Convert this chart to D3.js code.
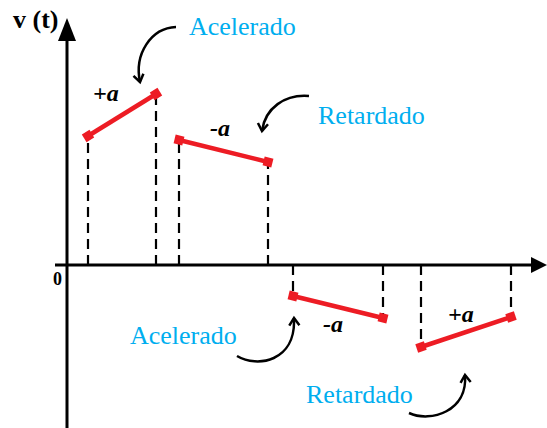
<!DOCTYPE html>
<html>
<head>
<meta charset="utf-8">
<script src="https://cdn.jsdelivr.net/npm/d3@7"></script>
<style>
  body { margin: 0; background: #fff; }
  svg { display: block; }
</style>
</head>
<body>
<div id="chart"></div>
<script>
// time (t) and velocity (v) of each straight piece of the graph
const segStart = [1.05, 5.6, 11.3, 17.7];
const segEnd = [4.45, 10.05, 15.8, 22.2];
const vStart = [6.45, 6.25, -1.55, -4.1];
const vEnd = [8.55, 5.15, -2.65, -2.6];
const accelLabels = ["+a", "-a", "-a", "+a"];
const stateLabels = ["Acelerado", "Retardado", "Acelerado", "Retardado"];
const axisLabel = "v (t)";
const originLabel = "0";

const width = 547;
const height = 428;
const serif = "Liberation Serif";

const svg = d3
  .select("#chart")
  .append("svg")
  .attr("width", width)
  .attr("height", height)
  .attr("font-family", serif);

const x = d3.scaleLinear().domain([0, 24]).range([67, 547]);
const y = d3.scaleLinear().domain([-8.15, 12.35]).range([428, 18]);

const segs = segStart.map((d, i) => ({
  t0: d,
  t1: segEnd[i],
  v0: vStart[i],
  v1: vEnd[i],
  acc: accelLabels[i],
  state: stateLabels[i],
}));

// axes
const axes = svg.append("g");
axes
  .append("line")
  .attr("x1", x(0))
  .attr("x2", x(0))
  .attr("y1", y(-8.15))
  .attr("y2", y(11.3))
  .attr("stroke", "#000")
  .attr("stroke-width", 3);
axes
  .append("path")
  .attr("d", `M${x(0)},${y(12.35)} L${x(0) - 9},${y(11.2)} L${x(0) + 9},${y(11.2)} Z`)
  .attr("fill", "#000");
axes
  .append("line")
  .attr("x1", x(-0.6))
  .attr("x2", x(23.3))
  .attr("y1", y(0))
  .attr("y2", y(0))
  .attr("stroke", "#000")
  .attr("stroke-width", 3);
axes
  .append("path")
  .attr("d", `M${x(24)},${y(0)} L${x(23.2)},${y(0) - 8} L${x(23.2)},${y(0) + 8} Z`)
  .attr("fill", "#000");

svg
  .append("text")
  .attr("x", 13)
  .attr("y", 28)
  .attr("font-family", serif)
  .attr("font-weight", "bold")
  .attr("font-size", 26)
  .text(axisLabel);

svg
  .append("text")
  .attr("x", x(0) - 14)
  .attr("y", y(0) + 20)
  .attr("font-family", serif)
  .attr("font-weight", "bold")
  .attr("font-size", 18)
  .text(originLabel);

// dashed drop lines from the time axis to each end point
const drops = [];
segs.forEach((s) => {
  drops.push({ t: s.t0, v: s.v0 });
  drops.push({ t: s.t1, v: s.v1 });
});
svg
  .append("g")
  .selectAll("line")
  .data(drops)
  .enter()
  .append("line")
  .attr("x1", (d) => x(d.t))
  .attr("x2", (d) => x(d.t))
  .attr("y1", y(0))
  .attr("y2", (d) => y(d.v))
  .attr("stroke", "#000")
  .attr("stroke-width", 2.2)
  .attr("stroke-dasharray", "10,6");

// red segments
const red = "#ED1C24";
const g = svg.append("g");
g.selectAll("line.seg")
  .data(segs)
  .enter()
  .append("line")
  .attr("class", "seg")
  .attr("x1", (d) => x(d.t0))
  .attr("y1", (d) => y(d.v0))
  .attr("x2", (d) => x(d.t1))
  .attr("y2", (d) => y(d.v1))
  .attr("stroke", red)
  .attr("stroke-width", 4.5);

const ends = [];
segs.forEach((s) => {
  const ang = (Math.atan2(y(s.v1) - y(s.v0), x(s.t1) - x(s.t0)) * 180) / Math.PI;
  ends.push({ px: x(s.t0), py: y(s.v0), ang });
  ends.push({ px: x(s.t1), py: y(s.v1), ang });
});
g.selectAll("rect")
  .data(ends)
  .enter()
  .append("rect")
  .attr("x", -4.5)
  .attr("y", -4.5)
  .attr("width", 9)
  .attr("height", 9)
  .attr("fill", red)
  .attr("transform", (d) => `translate(${d.px},${d.py}) rotate(${d.ang})`);

// +a / -a labels, placed relative to each segment start
const accOffset = [
  [5, -35],
  [31, -4],
  [30, 36],
  [27, -25],
];
svg
  .append("g")
  .selectAll("text")
  .data(segs)
  .enter()
  .append("text")
  .attr("x", (d, i) => x(d.t0) + accOffset[i][0])
  .attr("y", (d, i) => y(d.v0) + accOffset[i][1])
  .attr("font-family", serif)
  .attr("font-weight", "bold")
  .attr("font-style", "italic")
  .attr("font-size", 24)
  .text((d) => d.acc);

// state labels (cyan), placed relative to the end that the pointer targets
const stateOffset = [
  [33, -59],
  [50, -38],
  [-163, 48],
  [-115, 56],
];
svg
  .append("g")
  .selectAll("text")
  .data(segs)
  .enter()
  .append("text")
  .attr("x", (d, i) => (i >= 2 ? x(d.t0) : x(d.t1)) + stateOffset[i][0])
  .attr("y", (d, i) => (i >= 2 ? y(d.v0) : y(d.v1)) + stateOffset[i][1])
  .attr("font-family", serif)
  .attr("font-size", 26)
  .attr("fill", "#00AEEF")
  .text((d) => d.state);

// curved pointer arrows (start, c1, c2, tip) relative to the pointed end
function pointer(px, py, p) {
  const pts = p.map((q) => [px + q[0], py + q[1]]);
  const path = d3.path();
  path.moveTo(pts[0][0], pts[0][1]);
  path.bezierCurveTo(pts[1][0], pts[1][1], pts[2][0], pts[2][1], pts[3][0], pts[3][1]);
  svg
    .append("path")
    .attr("d", path.toString())
    .attr("fill", "none")
    .attr("stroke", "#000")
    .attr("stroke-width", 2.5);
  const tip = pts[3];
  const dir = Math.atan2(tip[1] - pts[2][1], tip[0] - pts[2][0]);
  const L = 9;
  const spread = 0.6;
  const a1 = [tip[0] - L * Math.cos(dir - spread), tip[1] - L * Math.sin(dir - spread)];
  const a2 = [tip[0] - L * Math.cos(dir + spread), tip[1] - L * Math.sin(dir + spread)];
  svg
    .append("path")
    .attr("d", `M${a1[0]},${a1[1]} L${tip[0]},${tip[1]} L${a2[0]},${a2[1]}`)
    .attr("fill", "none")
    .attr("stroke", "#000")
    .attr("stroke-width", 2.5);
}

const pointerShapes = [
  [[20, -67], [-5, -66], [-22, -40], [-16, -12]],
  [[41, -66], [17, -68], [-3, -54], [-6, -31]],
  [[-56, 60], [-36, 72], [3, 66], [1, 22]],
  [[-12, 66], [10, 76], [47, 64], [44, 28]],
];
segs.forEach((s, i) => {
  const useStart = i >= 2;
  const px = useStart ? x(s.t0) : x(s.t1);
  const py = useStart ? y(s.v0) : y(s.v1);
  pointer(px, py, pointerShapes[i]);
});
</script>
</body>
</html>
